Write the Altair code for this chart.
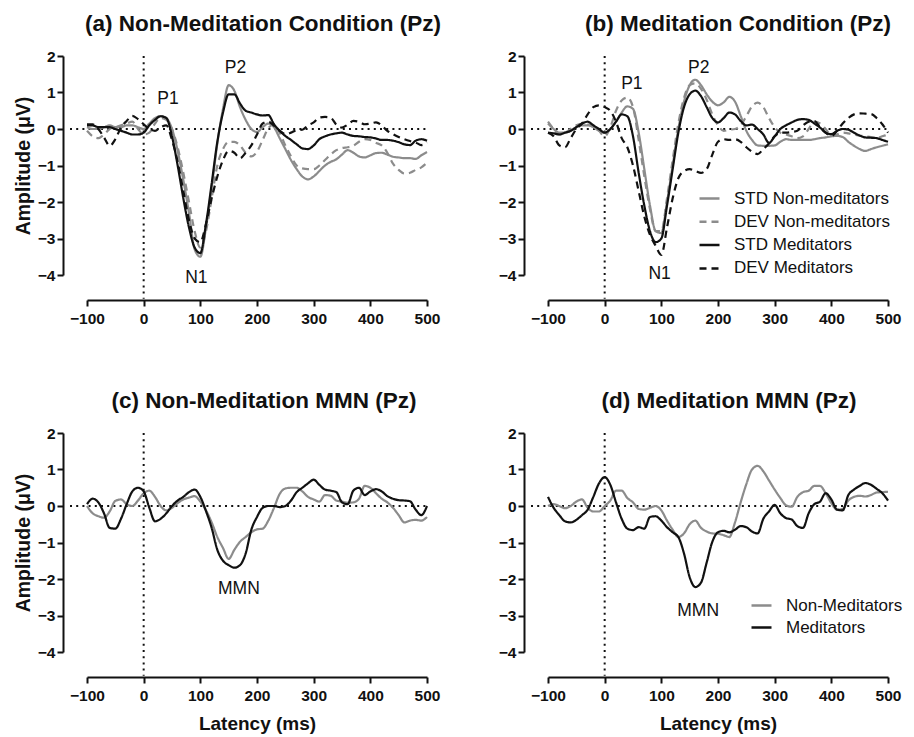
import altair as alt
import pandas as pd

# ---------------- data ----------------
latency = list(range(-100, 501, 10))
x_ticks = [-100, 0, 100, 200, 300, 400, 500]
y_ticks = [-4, -3, -2, -1, 0, 1, 2]

erp_names = ["STD Non-meditators", "DEV Non-meditators", "STD Meditators", "DEV Meditators"]
mmn_names = ["Non-Meditators", "Meditators"]

# (a) Non-Meditation Condition
a_std_non = [0.05, 0.0, 0.0, 0.05, 0.1, 0.05, 0.05, 0.1, 0.1, 0.05, 0.0, 0.15, 0.3, 0.35, 0.3, 0.0,
             -0.6, -1.4, -2.3, -3.3, -3.5, -2.7, -1.6, -0.4, 0.55, 1.2, 1.05, 0.6, 0.25, 0.0, -0.08,
             0.05, 0.15, 0.05, -0.25, -0.55, -0.85, -1.1, -1.3, -1.38, -1.3, -1.15, -1.0, -0.9, -0.83,
             -0.7, -0.58, -0.65, -0.75, -0.78, -0.72, -0.66, -0.65, -0.7, -0.76, -0.78, -0.8, -0.8,
             -0.82, -0.72, -0.63]
a_dev_non = [-0.05, -0.2, -0.25, -0.15, 0.0, 0.05, 0.1, 0.15, 0.2, 0.0, -0.15, -0.1, 0.15, 0.3, 0.25,
             0.0, -0.5, -1.2, -2.0, -2.8, -3.25, -2.8, -1.9, -1.0, -0.55, -0.35, -0.35, -0.45, -0.65,
             -0.75, -0.62, -0.3, 0.02, 0.13, -0.1, -0.45, -0.75, -1.0, -1.08, -1.1, -1.1, -1.0, -0.85,
             -0.7, -0.58, -0.52, -0.5, -0.46, -0.35, -0.28, -0.3, -0.38, -0.45, -0.65, -0.95, -1.12,
             -1.22, -1.2, -1.12, -1.05, -0.92]
a_std_med = [0.1, 0.1, 0.05, 0.05, 0.05, 0.0, -0.05, -0.1, -0.15, -0.15, -0.1, 0.1, 0.25, 0.35, 0.3,
             -0.2, -1.0, -1.9, -2.7, -3.25, -3.4, -2.6, -1.5, -0.35, 0.45, 0.95, 0.95, 0.7, 0.5, 0.45,
             0.4, 0.37, 0.38, 0.13, -0.05, -0.19, -0.3, -0.42, -0.53, -0.55, -0.45, -0.28, -0.2, -0.15,
             -0.12, -0.1, -0.15, -0.19, -0.2, -0.22, -0.23, -0.26, -0.3, -0.3, -0.32, -0.36, -0.42,
             -0.44, -0.32, -0.28, -0.32]
a_dev_med = [0.13, 0.13, 0.0, -0.23, -0.46, -0.28, 0.04, 0.22, 0.36, 0.27, 0.13, 0.0, -0.05, 0.05, 0.1,
             -0.3, -0.9, -1.7, -2.5, -3.0, -3.1, -2.6, -1.9, -1.3, -0.85, -0.6, -0.65, -0.8, -0.65,
             -0.45, -0.15, 0.15, 0.2, 0.09, -0.05, -0.14, -0.1, -0.03, -0.02, 0.1, 0.18, 0.31, 0.33,
             0.31, 0.12, 0.04, 0.12, 0.22, 0.2, 0.13, 0.15, 0.18, 0.1, -0.05, -0.14, -0.22, -0.28,
             -0.33, -0.37, -0.44, -0.37]

# (b) Meditation Condition
b_std_non = [0.15, 0.0, -0.1, -0.1, -0.05, 0.05, 0.1, 0.1, 0.05, -0.05, -0.1, 0.0, 0.2, 0.45, 0.62,
             0.55, -0.1, -1.1, -2.1, -2.8, -2.85, -2.0, -1.0, 0.0, 0.75, 1.2, 1.35, 1.2, 0.95, 0.75,
             0.65, 0.73, 0.88, 0.75, 0.36, -0.05, -0.3, -0.45, -0.46, -0.46, -0.45, -0.35, -0.28, -0.3,
             -0.3, -0.3, -0.3, -0.28, -0.25, -0.23, -0.2, -0.19, -0.22, -0.35, -0.46, -0.55, -0.6,
             -0.55, -0.5, -0.46, -0.42]
b_dev_non = [0.2, 0.0, -0.15, -0.1, 0.0, 0.1, 0.15, 0.12, 0.1, -0.05, -0.2, 0.05, 0.5, 0.78, 0.86,
             0.6, -0.3, -1.3, -2.2, -2.8, -2.8, -1.9, -0.85, 0.15, 0.85, 1.2, 1.25, 1.1, 0.8, 0.4,
             0.1, -0.05, -0.02, 0.0, 0.1, 0.35, 0.62, 0.72, 0.6, 0.3, 0.05, -0.1, -0.15, -0.2, -0.25,
             -0.2, 0.0, 0.2, 0.15, 0.0, -0.18, -0.15, -0.1, -0.12, -0.15, -0.18, -0.2, -0.22, -0.25,
             -0.2, -0.15]
b_std_med = [-0.1, -0.12, -0.15, -0.1, -0.05, 0.05, 0.15, 0.2, 0.1, 0.0, -0.1, 0.0, 0.2, 0.4, 0.35,
             -0.2, -1.2, -2.1, -2.8, -3.1, -3.0, -2.1, -1.1, -0.1, 0.6, 0.95, 1.05, 0.9, 0.6, 0.3,
             0.18, 0.3, 0.45, 0.4, 0.22, 0.1, 0.12, 0.0, -0.15, -0.38, -0.2, 0.0, 0.1, 0.18, 0.25,
             0.27, 0.25, 0.15, 0.04, -0.1, -0.14, -0.05, 0.0, -0.02, -0.1, -0.18, -0.23, -0.24,
             -0.25, -0.3, -0.35]
b_dev_med = [-0.1, -0.2, -0.45, -0.5, -0.25, 0.0, 0.15, 0.4, 0.6, 0.65, 0.6, 0.5, 0.2, -0.25, -0.5,
             -1.0, -1.7, -2.4, -2.9, -3.2, -3.45, -2.7, -1.9, -1.35, -1.15, -1.1, -1.15, -1.2, -1.1,
             -0.7, -0.35, -0.28, -0.3, -0.28, -0.35, -0.5, -0.62, -0.69, -0.55, -0.4, -0.2, -0.1,
             -0.1, -0.08, -0.05, 0.1, 0.2, 0.22, 0.05, -0.1, -0.19, -0.05, 0.15, 0.3, 0.4, 0.43,
             0.42, 0.41, 0.3, 0.13, -0.1]

# (c) Non-Meditation MMN
c_non = [0.0, -0.2, -0.28, -0.32, -0.15, 0.14, 0.18, 0.05, 0.0, 0.15, 0.35, 0.42, 0.25, 0.0, -0.12,
         -0.05, 0.08, 0.18, 0.23, 0.27, 0.12, -0.12, -0.45, -0.85, -1.15, -1.45, -1.2, -0.98, -0.85,
         -0.72, -0.64, -0.62, -0.4, -0.05, 0.33, 0.48, 0.5, 0.5, 0.4, 0.25, 0.18, 0.12, 0.3, 0.28,
         0.15, 0.12, 0.09, 0.1, 0.2, 0.55, 0.5, 0.35, 0.2, 0.1, -0.05, -0.25, -0.45, -0.4, -0.38,
         -0.4, -0.3]
c_med = [0.05, 0.2, 0.1, -0.2, -0.6, -0.62, -0.35, 0.05, 0.4, 0.5, 0.4, -0.05, -0.42, -0.35, -0.2,
         0.0, 0.15, 0.25, 0.38, 0.45, 0.25, -0.14, -0.6, -1.2, -1.5, -1.62, -1.69, -1.62, -1.3,
         -0.65, -0.3, -0.05, 0.0, 0.0, -0.03, 0.0, 0.15, 0.38, 0.5, 0.62, 0.72, 0.58, 0.45, 0.42,
         0.38, 0.1, 0.05, 0.42, 0.5, 0.3, 0.4, 0.46, 0.4, 0.27, 0.2, 0.16, 0.15, 0.13, -0.1, -0.25,
         0.0]

# (d) Meditation MMN
d_non = [0.0, 0.05, 0.0, -0.06, 0.0, 0.12, 0.18, -0.05, -0.15, -0.15, 0.0, 0.15, 0.42, 0.42, 0.22,
         0.1, -0.08, -0.1, -0.05, 0.0, -0.12, -0.4, -0.65, -0.85, -0.75, -0.5, -0.4, -0.6, -0.7,
         -0.75, -0.76, -0.8, -0.85, -0.45, 0.1, 0.6, 1.0, 1.1, 0.95, 0.7, 0.45, 0.22, 0.02, -0.02,
         0.25, 0.38, 0.42, 0.55, 0.55, 0.35, 0.08, -0.1, -0.08, 0.15, 0.25, 0.28, 0.26, 0.3, 0.37,
         0.38, 0.39]
d_med = [0.25, -0.05, -0.25, -0.42, -0.45, -0.38, -0.25, -0.1, 0.25, 0.62, 0.79, 0.58, 0.1, -0.35,
         -0.62, -0.66, -0.58, -0.62, -0.3, -0.28, -0.4, -0.58, -0.72, -0.85, -1.3, -1.95, -2.22,
         -2.1, -1.55, -0.98, -0.72, -0.68, -0.72, -0.65, -0.55, -0.58, -0.7, -0.75, -0.35, -0.15,
         0.03, -0.2, -0.33, -0.37, -0.55, -0.6, -0.2, 0.05, 0.12, 0.35, 0.18, -0.1, -0.12, 0.3,
         0.45, 0.55, 0.63, 0.58, 0.47, 0.35, 0.15]

# peak labels: text, latency, amplitude
a_labels = [("P1", 43, 0.81), ("P2", 162, 1.68), ("N1", 93, -4.07)]
b_labels = [("P1", 48, 1.22), ("P2", 166, 1.68), ("N1", 97, -3.98)]
c_labels = [("MMN", 168, -2.27)]
d_labels = [("MMN", 165, -2.88)]

# ---------------- styling ----------------
FONT = "Liberation Sans"
GRAY = "#8c8c8c"
BLACK = "#111111"
W, H = 340, 219


def long_df(names, series):
    rows = []
    for name, vals in zip(names, series):
        for t, v in zip(latency, vals):
            rows.append({"latency": t, "amp": v, "series": name})
    return pd.DataFrame(rows)


def make_axis(values, offset, title, title_pad, title_size, label_pad):
    return alt.Axis(values=values, offset=offset, title=title, titlePadding=title_pad,
                    labelFont=FONT, labelFontSize=15.5, labelFontWeight="bold", labelColor=BLACK,
                    labelPadding=label_pad, labelFlush=False, labelOverlap=False,
                    titleFont=FONT, titleFontSize=title_size, titleFontWeight="bold",
                    titleColor=BLACK, domainColor=BLACK, domainWidth=2, tickColor=BLACK,
                    tickWidth=2, tickSize=6, grid=False)


def panel(names, series, colors, dashes, title, dx, labels, legend, y_title, x_title):
    xs = alt.Scale(domain=[-100, 500], nice=False, zero=False)
    ys = alt.Scale(domain=[-4, 2], nice=False, zero=False)
    xax = make_axis(x_ticks, 25, x_title, 11, 19, 5)
    yax = make_axis(y_ticks, 24, y_title, 4, 19.5, 2)

    vref = pd.DataFrame({"latency": [0], "amp": [2], "amp2": [-4.65]})
    href = pd.DataFrame({"latency": [-130], "latency2": [500], "amp": [0]})
    dots = dict(strokeDash=[2, 4.2], strokeWidth=2, color=BLACK)
    X = alt.X("latency:Q", scale=xs, axis=xax)
    Y = alt.Y("amp:Q", scale=ys, axis=yax)

    v_rule = alt.Chart(vref).mark_rule(**dots).encode(x=X, y=Y, y2="amp2:Q")
    h_rule = alt.Chart(href).mark_rule(**dots).encode(x=X, x2="latency2:Q", y=Y)

    df = long_df(names, series)
    lines = alt.Chart(df).mark_line(strokeWidth=2.2, interpolate="monotone").encode(
        x=X,
        y=Y,
        color=alt.Color("series:N", scale=alt.Scale(domain=names, range=colors), legend=legend),
        strokeDash=alt.StrokeDash("series:N", scale=alt.Scale(domain=names, range=dashes),
                                  legend=legend),
    )

    ldf = pd.DataFrame(labels, columns=["text", "latency", "amp"])
    text = alt.Chart(ldf).mark_text(font=FONT, fontSize=17.5, color=BLACK).encode(
        x=X, y=Y, text="text:N")

    return alt.layer(v_rule, h_rule, lines, text).properties(
        width=W, height=H,
        title=alt.TitleParams(title, dx=dx, offset=14, frame="group", anchor="middle",
                              font=FONT, fontSize=22.5, fontWeight="bold", color=BLACK),
    )


def make_legend(x, y, row_pad, label_offset):
    return alt.Legend(title=None, orient="none", legendX=x, legendY=y, symbolType="stroke",
                      symbolSize=400, symbolStrokeWidth=2.5, labelFont=FONT, labelFontSize=17,
                      labelColor=BLACK, labelOffset=label_offset, rowPadding=row_pad, padding=0,
                      labelLimit=400)


erp_colors = [GRAY, GRAY, BLACK, BLACK]
erp_dashes = [[1, 0], [7, 5], [1, 0], [7, 5]]
mmn_colors = [GRAY, BLACK]
mmn_dashes = [[1, 0], [1, 0]]

pa = panel(erp_names, [a_std_non, a_dev_non, a_std_med, a_dev_med], erp_colors, erp_dashes,
           "(a) Non-Meditation Condition (Pz)", 6, a_labels, None, "Amplitude (\u03bcV)", None)
pb = panel(erp_names, [b_std_non, b_dev_non, b_std_med, b_dev_med], erp_colors, erp_dashes,
           "(b) Meditation Condition (Pz)", 20, b_labels, make_legend(150, 131, 3.3, 13), None, None)
pc = panel(mmn_names, [c_non, c_med], mmn_colors, mmn_dashes,
           "(c) Non-Meditation MMN (Pz)", 7, c_labels, None, "Amplitude (\u03bcV)", "Latency (ms)")
pd_ = panel(mmn_names, [d_non, d_med], mmn_colors, mmn_dashes,
            "(d) Meditation MMN (Pz)", 11, d_labels, make_legend(202, 161, 2, 13), None,
            "Latency (ms)")

chart = alt.concat(pa, pb, pc, pd_, columns=2, spacing={"row": 62, "column": 55}).resolve_scale(
    color="independent", strokeDash="independent"
).resolve_legend(color="independent", strokeDash="independent").configure_view(
    stroke="transparent"
).properties(
    background="white", align="each", padding={"left": 4, "top": 4, "right": 0, "bottom": 2}
)

chart.save("out.html", embed_options={"renderer": "svg", "actions": False})
